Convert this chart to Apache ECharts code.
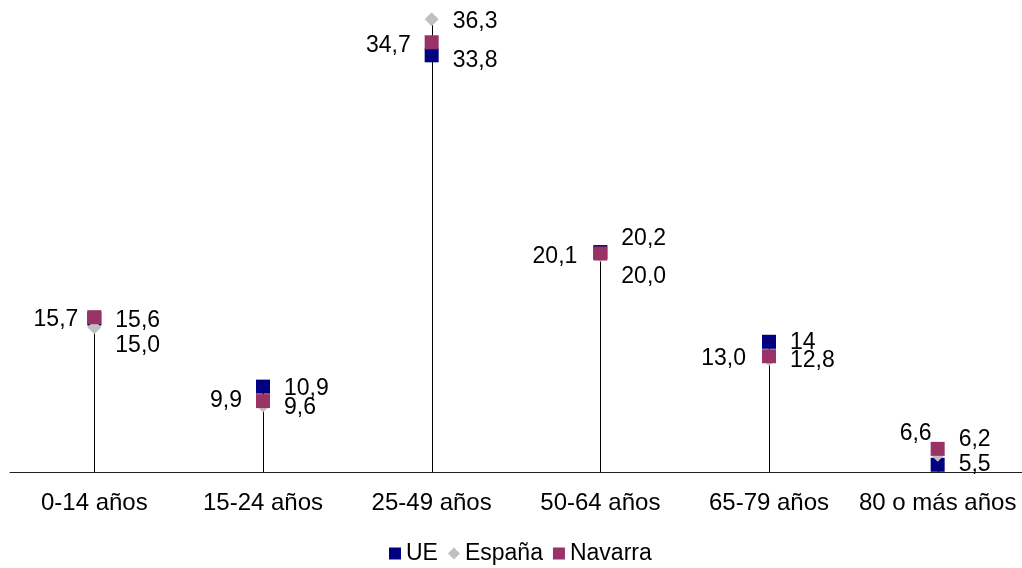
<!DOCTYPE html>
<html>
<head>
<meta charset="utf-8">
<script src="https://cdn.jsdelivr.net/npm/echarts@6/dist/echarts.min.js"></script>
<style>
  html, body { margin: 0; padding: 0; background: #fff; }
  #chart { width: 1022px; height: 568px; }
</style>
</head>
<body>
<div id="chart"></div>
<script>
// ---- Data ----
const categories = ['0-14 años', '15-24 años', '25-49 años', '50-64 años', '65-79 años', '80 o más años'];
const seriesNames = ['UE', 'España', 'Navarra'];
const ueValues      = [15.6, 10.9, 33.8, 20.2, 14.0, 5.5];
const espanaValues  = [15.0, 9.6, 36.3, 20.0, 12.8, 6.2];
const navarraValues = [15.7, 9.9, 34.7, 20.1, 13.0, 6.6];
const ueLabelText      = ['15,6', '10,9', '33,8', '20,2', '14', '5,5'];
const espanaLabelText  = ['15,0', '9,6', '36,3', '20,0', '12,8', '6,2'];
const navarraLabelText = ['15,7', '9,9', '34,7', '20,1', '13,0', '6,6'];

// ---- Label placement (style only): [position, dx, dy] ----
const ueLabelPlace      = [['right', 0, 2], ['right', 0, 2], ['right', 0, 5], ['right', 0, -13], ['right', 0, 1], ['right', 0, 0]];
const espanaLabelPlace  = [['right', 0, 18], ['right', 0, 2], ['right', 0, 3], ['right', 0, 22], ['right', 0, 2], ['right', 0, -15]];
const navarraLabelPlace = [['left', 5, 2], ['left', 0, 0], ['left', 0, 3], ['left', -2, 3], ['left', -2, 2], ['top', -22, 17]];

const FONT = '"Liberation Sans", Arial, sans-serif';
const Y_MIN = 5, Y_MAX = 37;

function buildData(values, texts, places) {
  return values.map((v, i) => ({
    value: v,
    label: {
      show: true,
      formatter: texts[i],
      position: places[i][0],
      offset: [places[i][1], places[i][2]],
      distance: 14
    }
  }));
}

const dropData = categories.map((c, i) => [i, Math.max(ueValues[i], espanaValues[i], navarraValues[i])]);

const labelStyle = { color: '#000', fontFamily: FONT, fontSize: 23 };

const chart = echarts.init(document.getElementById('chart'), null, { renderer: 'canvas' });
chart.setOption({
  animation: false,
  backgroundColor: '#fff',
  grid: { left: 10, right: 0, top: 9, bottom: 96, containLabel: false },
  legend: {
    left: 389,
    top: 542,
    padding: 0,
    itemWidth: 12,
    itemHeight: 12,
    itemGap: 10,
    textStyle: { color: '#000', fontFamily: FONT, fontSize: 23 },
    data: [
      { name: 'UE', icon: 'rect' },
      { name: 'España', icon: 'diamond' },
      { name: 'Navarra', icon: 'rect' }
    ]
  },
  xAxis: {
    type: 'category',
    data: categories,
    boundaryGap: true,
    axisLine: { lineStyle: { color: '#222', width: 1 } },
    axisTick: { show: false },
    axisLabel: { color: '#000', fontFamily: FONT, fontSize: 24, margin: 19, interval: 0 },
    splitLine: { show: false }
  },
  yAxis: {
    type: 'value',
    min: Y_MIN,
    max: Y_MAX,
    show: false,
    splitLine: { show: false }
  },
  series: [
    {
      type: 'custom',
      name: 'drop',
      silent: true,
      z: 1,
      renderItem: function (params, api) {
        const i = api.value(0);
        const p1 = api.coord([i, api.value(1)]);
        const p2 = api.coord([i, Y_MIN]);
        const x = Math.round(p1[0]) + 0.5;
        return {
          type: 'line',
          shape: { x1: x, y1: p1[1], x2: x, y2: p2[1] },
          style: { stroke: '#000', lineWidth: 1 }
        };
      },
      data: dropData
    },
    {
      name: seriesNames[0],
      type: 'scatter',
      symbol: 'rect',
      symbolSize: 14,
      z: 2,
      itemStyle: { color: '#000080', opacity: 1 },
      label: labelStyle,
      data: buildData(ueValues, ueLabelText, ueLabelPlace)
    },
    {
      name: seriesNames[1],
      type: 'scatter',
      symbol: 'diamond',
      symbolSize: 14,
      z: 3,
      itemStyle: { color: '#C0C0C0', opacity: 1 },
      label: labelStyle,
      data: buildData(espanaValues, espanaLabelText, espanaLabelPlace)
    },
    {
      name: seriesNames[2],
      type: 'scatter',
      symbol: 'rect',
      symbolSize: 14,
      z: 4,
      itemStyle: { color: '#993366', opacity: 1 },
      label: labelStyle,
      data: buildData(navarraValues, navarraLabelText, navarraLabelPlace)
    }
  ]
});
</script>
</body>
</html>
